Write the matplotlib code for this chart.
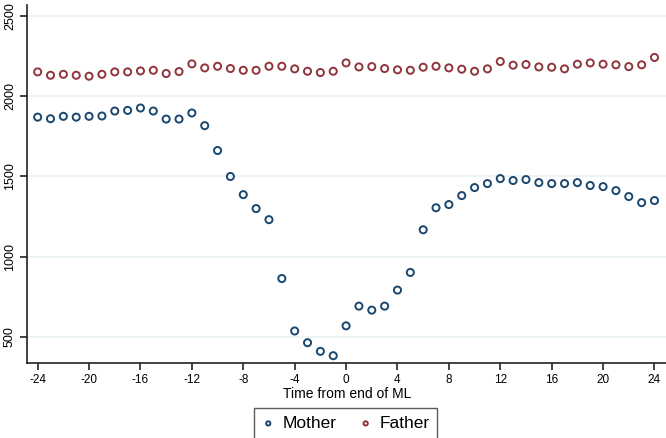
import matplotlib
matplotlib.use("Agg")
import matplotlib.pyplot as plt
import numpy as np

plt.rcParams['font.family'] = ['Liberation Sans', 'DejaVu Sans']

months = list(range(-24, 25))
mother = [1870, 1860, 1875, 1870, 1875, 1877, 1908, 1912, 1927, 1908,
          1858, 1858, 1896, 1817, 1662, 1500, 1387, 1300, 1231, 864,
          537, 464, 410, 383, 569, 692, 667, 692, 792, 902,
          1168, 1305, 1325, 1381, 1431, 1456, 1487, 1475, 1481, 1462,
          1456, 1456, 1462, 1444, 1437, 1412, 1375, 1337, 1350]
father = [2152, 2131, 2137, 2131, 2125, 2137, 2152, 2152, 2158, 2162,
          2142, 2154, 2202, 2177, 2187, 2173, 2162, 2162, 2187, 2187,
          2171, 2156, 2148, 2156, 2208, 2183, 2185, 2173, 2165, 2162,
          2181, 2187, 2177, 2169, 2156, 2171, 2217, 2194, 2198, 2183,
          2181, 2171, 2200, 2208, 2200, 2196, 2185, 2196, 2242]
xticks = list(range(-24, 25, 4))
yticks = [500, 1000, 1500, 2000, 2500]
series_names = ["Mother", "Father"]

fig = plt.figure(figsize=(6.66, 4.38), dpi=100)
ax = fig.add_axes([27/666, (438-363)/438, 1 - 27/666 + 0.002, (363-5)/438])

ax.scatter(months, mother, s=26, facecolors='none', edgecolors='#1a476f',
           linewidths=1.4, label=series_names[0], zorder=3)
ax.scatter(months, father, s=26, facecolors='none', edgecolors='#90353b',
           linewidths=1.4, label=series_names[1], zorder=3)

ax.set_xlim(-24.83, 25.0)
ax.set_ylim(337.5, 2569)
ax.set_xticks(xticks)
ax.set_xticklabels([str(t) for t in xticks], fontsize=8.5)
ax.set_yticks(yticks)
ax.set_yticklabels([str(t) for t in yticks], fontsize=9, rotation=90, va='center')
ax.grid(axis='y', color='#eaf2f3', linewidth=1.2, zorder=0)
ax.set_axisbelow(True)
for s in ['top', 'right']:
    ax.spines[s].set_visible(False)
for s in ['left', 'bottom']:
    ax.spines[s].set_color('#222222')
    ax.spines[s].set_linewidth(1.2)
ax.tick_params(axis='x', direction='out', length=5, width=1.2, color='#222222', pad=3)
ax.tick_params(axis='y', direction='out', length=5, width=1.2, color='#222222', pad=3)
ax.set_xlabel("Time from end of ML", fontsize=10, labelpad=0.5)

leg = fig.legend(loc='upper center', bbox_to_anchor=(345.5/666, 1 - 408/438),
                 ncol=2, fontsize=12.5, frameon=True, fancybox=False,
                 edgecolor='#333333', markerscale=0.6, handletextpad=0.4,
                 handlelength=0.8, columnspacing=1.3, borderpad=0.45,
                 borderaxespad=0)
leg.get_frame().set_linewidth(1.0)

fig.savefig("out.png", dpi=100)
